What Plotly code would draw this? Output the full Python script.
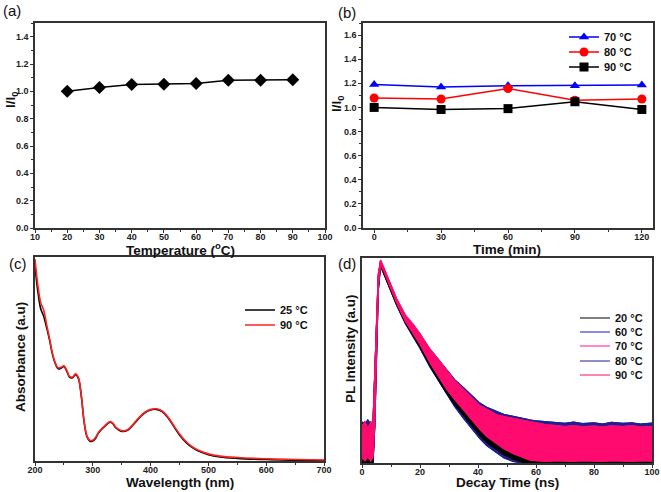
import plotly.graph_objects as go

FONT = "Arial, Liberation Sans, sans-serif"

# ---------- (a) ----------
temp_a = [20, 30, 40, 50, 60, 70, 80, 90]
ratio_a = [1.00, 1.028, 1.05, 1.051, 1.057, 1.082, 1.082, 1.084]

# ---------- (b) ----------
time_b = [0, 30, 60, 90, 120]
r70 = [1.19, 1.17, 1.18, 1.18, 1.185]
r80 = [1.078, 1.07, 1.157, 1.06, 1.07]
r90 = [1.00, 0.983, 0.99, 1.047, 0.983]

# ---------- (c) ----------
wl = [200, 205, 210, 215, 220, 225, 230, 235, 240, 245, 250, 255, 260, 265, 270, 275,
      280, 285, 290, 295, 300, 305, 310, 320, 330, 335, 340, 350, 360, 370, 380, 390,
      400, 410, 420, 430, 440, 450, 460, 470, 480, 500, 520, 550, 600, 650, 700]
abs25 = [0.955, 0.83, 0.745, 0.71, 0.655, 0.595, 0.525, 0.478, 0.452, 0.455, 0.463, 0.44,
         0.41, 0.408, 0.423, 0.405, 0.32, 0.19, 0.118, 0.097, 0.098, 0.112, 0.138, 0.168,
         0.19, 0.182, 0.162, 0.145, 0.15, 0.178, 0.21, 0.236, 0.25, 0.253, 0.242, 0.212,
         0.17, 0.128, 0.095, 0.07, 0.052, 0.031, 0.02, 0.013, 0.007, 0.004, 0.002]
abs90 = [0.99, 0.86, 0.775, 0.74, 0.67, 0.603, 0.53, 0.482, 0.456, 0.459, 0.467, 0.444,
         0.414, 0.412, 0.427, 0.409, 0.325, 0.195, 0.122, 0.101, 0.102, 0.116, 0.141, 0.171,
         0.193, 0.185, 0.165, 0.148, 0.153, 0.181, 0.213, 0.239, 0.253, 0.256, 0.245, 0.216,
         0.174, 0.132, 0.099, 0.074, 0.056, 0.035, 0.024, 0.017, 0.011, 0.007, 0.005]

# ---------- (d) ----------
t_d = [0, 1, 2, 3, 3.8, 4.4, 5, 5.6, 6.4, 8, 10, 12, 15, 17.7, 20, 23.4, 26, 29.2, 32,
       34.9, 38, 40.6, 43, 46.4, 49, 52.1, 55, 57.8, 60, 63.5, 67, 70, 73, 76, 80, 83,
       86, 90, 93, 96, 100]
pink_hi = [0.18, 0.20, 0.17, 0.20, 0.19, 0.45, 0.72, 0.92, 0.99, 0.935, 0.87, 0.80, 0.72,
           0.675, 0.63, 0.555, 0.51, 0.45, 0.40, 0.36, 0.315, 0.28, 0.262, 0.235, 0.226,
           0.218, 0.21, 0.2, 0.195, 0.186, 0.182, 0.178, 0.183, 0.176, 0.18, 0.175, 0.181,
           0.177, 0.182, 0.175, 0.178]
pink_lo = [0.025, 0.012, 0.03, 0.01, 0.03, 0.20, 0.55, 0.86, 0.975, 0.918, 0.85, 0.78, 0.69,
           0.634, 0.58, 0.49, 0.43, 0.36, 0.31, 0.26, 0.205, 0.165, 0.13, 0.098, 0.07,
           0.047, 0.03, 0.015, 0.012, 0.008, 0.012, 0.01, 0.008, 0.012, 0.01, 0.008, 0.012,
           0.01, 0.008, 0.012, 0.01]
blue_hi = [0.20, 0.19, 0.21, 0.19, 0.20, 0.44, 0.70, 0.91, 0.985, 0.93, 0.865, 0.795, 0.712,
           0.672, 0.628, 0.555, 0.51, 0.452, 0.405, 0.368, 0.325, 0.292, 0.272, 0.25, 0.236,
           0.228, 0.218, 0.21, 0.205, 0.2, 0.196, 0.194, 0.2, 0.192, 0.196, 0.19, 0.198,
           0.193, 0.196, 0.19, 0.195]
blue_lo = [0.0, 0.0, 0.0, 0.0, 0.0, 0.18, 0.52, 0.84, 0.965, 0.905, 0.838, 0.768, 0.68,
           0.615, 0.56, 0.47, 0.41, 0.335, 0.275, 0.22, 0.165, 0.12, 0.085, 0.05, 0.025,
           0.008, 0.0, 0.0, 0.0, 0.0, 0.0, 0.0, 0.0, 0.0, 0.0, 0.0, 0.0,
           0.0, 0.0, 0.0, 0.0]
black_hi = [0.19, 0.2, 0.18, 0.2, 0.19, 0.44, 0.70, 0.91, 0.98, 0.925, 0.86, 0.79, 0.705,
            0.655, 0.61, 0.535, 0.49, 0.43, 0.385, 0.345, 0.30, 0.265, 0.245, 0.22, 0.21,
            0.2, 0.195, 0.19, 0.185, 0.18, 0.178, 0.175, 0.178, 0.172, 0.176, 0.172, 0.176,
            0.173, 0.176, 0.172, 0.175]
black_lo = [0.0, 0.0, 0.0, 0.0, 0.0, 0.18, 0.52, 0.84, 0.96, 0.905, 0.84, 0.77, 0.682,
            0.62, 0.565, 0.475, 0.415, 0.34, 0.285, 0.235, 0.18, 0.135, 0.10, 0.065, 0.04,
            0.02, 0.005, 0.0, 0.0, 0.0, 0.0, 0.0, 0.0, 0.0, 0.0, 0.0, 0.0,
            0.0, 0.0, 0.0, 0.0]

W, H = 661, 492
def px(x0, x1):
    return [x0 / W, x1 / W]
def py(top, bottom):
    return [(H - bottom) / H, (H - top) / H]

legfont = dict(family=FONT, size=11, color="#111", weight="bold")
legends = {}
def make_legend(key, x, ycenter):
    legends[key] = dict(x=x / W, y=(H - ycenter) / H, xanchor="left", yanchor="middle",
                        bgcolor="rgba(0,0,0,0)", font=legfont, itemwidth=30,
                        traceorder="normal")

fig = go.Figure()

# (a)
fig.add_trace(go.Scatter(x=temp_a, y=ratio_a, mode="lines+markers", xaxis="x", yaxis="y",
                         line=dict(color="black", width=1.5),
                         marker=dict(symbol="diamond", size=10, color="black"),
                         showlegend=False))

# (b)
b_rows = [37, 52, 67]
for i, (name, vals, col, sym) in enumerate([("70 °C", r70, "#0000FF", "triangle-up"),
                                            ("80 °C", r80, "#FF0000", "circle"),
                                            ("90 °C", r90, "#000000", "square")]):
    key = "legend" if i == 0 else f"legend{i + 1}"
    make_legend(key, 564, b_rows[i])
    fig.add_trace(go.Scatter(x=time_b, y=vals, mode="lines+markers", name=name,
                             xaxis="x2", yaxis="y2", legend=key,
                             line=dict(color=col, width=1.5),
                             marker=dict(symbol=sym, size=9, color=col)))

# (c)
c_rows = [310, 325]
for i, (name, vals, col) in enumerate([("25 °C", abs25, "black"), ("90 °C", abs90, "#FF2020")]):
    key = f"legend{i + 4}"
    make_legend(key, 240, c_rows[i])
    fig.add_trace(go.Scatter(x=wl, y=vals, mode="lines", name=name, xaxis="x3", yaxis="y3",
                             legend=key, line=dict(color=col, width=1.6, shape="spline")))

# (d)  drawn back to front; legend rows in reference order
d_rows = {"20 °C": 318, "60 °C": 332, "70 °C": 346, "80 °C": 361, "90 °C": 375}
series_d = [
    ("60 °C", "#1414D8", blue_lo, blue_hi, 7),
    ("80 °C", "#202090", blue_lo, blue_hi, 9),
    ("20 °C", "#000000", black_lo, black_hi, 6),
    ("70 °C", "#FF1493", pink_lo, pink_hi, 8),
    ("90 °C", "#FF0A6E", pink_lo, pink_hi, 10),
]
for name, col, lo, hi, num in series_d:
    key = f"legend{num}"
    make_legend(key, 575, d_rows[name])
    fig.add_trace(go.Scatter(x=t_d, y=lo, mode="lines", name=name, xaxis="x4", yaxis="y4",
                             legend=key, line=dict(color=col, width=1.2)))
    fig.add_trace(go.Scatter(x=t_d, y=hi, mode="lines", xaxis="x4", yaxis="y4",
                             showlegend=False, fill="tonexty", fillcolor=col,
                             line=dict(color=col, width=1.2)))

def xax(domain, rng, dtick, minor, anchor, labels=True):
    return dict(domain=domain, range=rng, dtick=dtick, anchor=anchor, showline=True,
                linecolor="#333", linewidth=1.5, mirror=True, ticks="outside", ticklen=3,
                tickwidth=1.2, tickcolor="#333", showgrid=False, zeroline=False,
                showticklabels=labels, automargin=False, ticklabelstandoff=-4,
                tickfont=dict(family=FONT, size=9, color="#222", weight="bold"),
                minor=dict(ticks="outside", ticklen=2, dtick=minor, tickcolor="#333"))

def yax(domain, rng, anchor, labels=True):
    d = dict(domain=domain, range=rng, anchor=anchor, showline=True, linecolor="#333",
             linewidth=1.5, mirror=True, showgrid=False, zeroline=False,
             showticklabels=labels, automargin=False,
             tickfont=dict(family=FONT, size=9, color="#222", weight="bold"))
    if labels:
        d.update(ticks="outside", ticklen=3, tickwidth=1.2, tickcolor="#333", dtick=0.2,
                 tickformat=".1f",
                 minor=dict(ticks="outside", ticklen=2, dtick=0.1, tickcolor="#333"))
    else:
        d.update(ticks="")
    return d

fig.update_layout(
    width=W, height=H, margin=dict(l=0, r=0, t=0, b=0, autoexpand=False),
    paper_bgcolor="white", plot_bgcolor="white",
    xaxis=xax(px(35, 325), [10, 100], 10, 5, "y"),
    yaxis=yax(py(23, 228), [0, 1.5], "x"),
    xaxis2=xax(px(363, 653), [-5, 125], 30, 15, "y2"),
    yaxis2=yax(py(23, 228), [0, 1.7], "x2"),
    xaxis3=xax(px(35, 324), [200, 700], 100, 50, "y3"),
    yaxis3=yax(py(257, 461), [0, 1.0], "x3", labels=False),
    xaxis4=xax(px(362, 652), [0, 100], 20, 10, "y4"),
    yaxis4=yax(py(258, 463), [0, 1.0], "x4", labels=False),
    **legends,
)

ann = []
def text(x, y, s, size=14, bold=True, angle=0):
    ann.append(dict(x=x / W, y=(H - y) / H, xref="paper", yref="paper", text=s,
                    showarrow=False, textangle=angle, xanchor="center", yanchor="middle",
                    font=dict(family=FONT, size=size, color="#111",
                              weight="bold" if bold else "normal")))

text(12, 11, "(a)", 15, False)
text(347, 12, "(b)", 15, False)
text(18, 263, "(c)", 15, False)
text(347, 263, "(d)", 15, False)
text(180, 249, "Temperature (<sup>o</sup>C)", 13.5)
text(507, 250, "Time (min)", 13.5)
text(180, 482, "Wavelength (nm)", 13.5)
text(507, 482, "Decay Time (ns)", 13.5)
text(11, 100, "I/I<sub>0</sub>", 13.5, angle=-90)
text(337, 104, "I/I<sub>0</sub>", 13.5, angle=-90)
text(20, 357, "Absorbance (a.u)", 13.5, angle=-90)
text(350, 348, "PL Intensity (a.u)", 13.5, angle=-90)
fig.update_layout(annotations=ann)

fig.write_html("out.html", config={"displayModeBar": False},
               post_script="document.body.style.margin='0';")
